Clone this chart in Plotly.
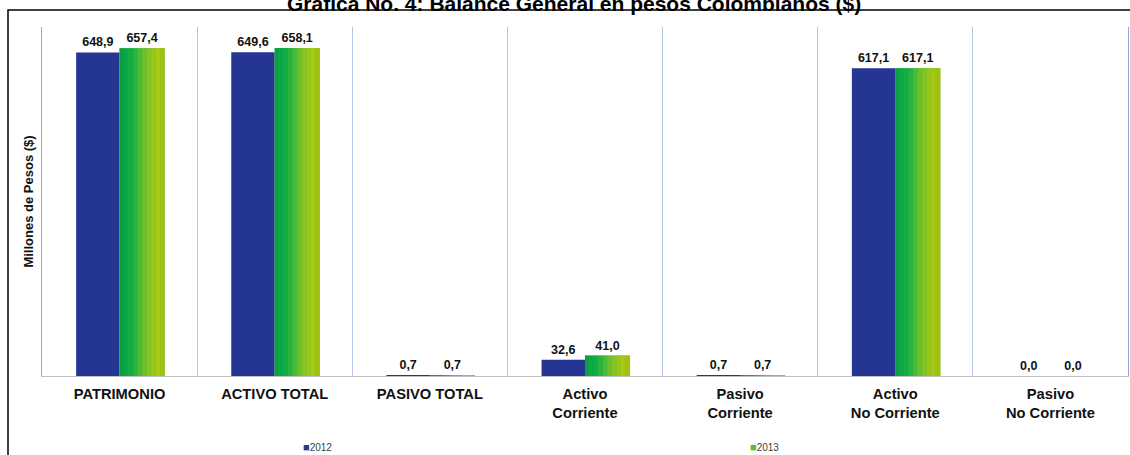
import plotly.graph_objects as go

# ---- data ----
categories = ["PATRIMONIO", "ACTIVO TOTAL", "PASIVO TOTAL", "Activo<br>Corriente",
              "Pasivo<br>Corriente", "Activo<br>No Corriente", "Pasivo<br>No Corriente"]
series_names = ["2012", "2013"]
values_2012 = [648.9, 649.6, 0.7, 32.6, 0.7, 617.1, 0.0]
values_2013 = [657.4, 658.1, 0.7, 41.0, 0.7, 617.1, 0.0]

title_text = "Gráfica No. 4: Balance General en pesos Colombianos ($)"
y_title = "Millones de Pesos ($)"

# ---- styles ----
FONT = "Liberation Sans, Arial, sans-serif"
BLUE = "#243592"
GREEN_STRIPS = ["#0c9e42", "#0aa848", "#12ae45", "#2ab43f", "#4bba36",
                "#6cc02c", "#86c424", "#98c71c", "#a5c915", "#9fc212"]
GRID = "#b4c6e7"

fig = go.Figure()

# 2012 bars
fig.add_trace(go.Bar(
    x=categories, y=values_2012, name=series_names[0],
    marker=dict(color=BLUE, line=dict(width=0)),
    offset=-0.28, width=0.28,
    texttemplate="<b>%{y:.1f}</b>", textposition="outside",
    textfont=dict(family=FONT, size=12.5, color="#111111"),
    cliponaxis=False, showlegend=False,
))

# 2013 bars (full width, carries label)
fig.add_trace(go.Bar(
    x=categories, y=values_2013, name=series_names[1],
    marker=dict(color=GREEN_STRIPS[4], line=dict(width=0)),
    offset=0.0, width=0.29,
    texttemplate="<b>%{y:.1f}</b>", textposition="outside",
    textfont=dict(family=FONT, size=12.5, color="#111111"),
    cliponaxis=False, showlegend=False,
))

# gradient strips over the 2013 bars
n = len(GREEN_STRIPS)
sw = 0.29 / n
for i, c in enumerate(GREEN_STRIPS):
    fig.add_trace(go.Bar(
        x=categories, y=values_2013, name=series_names[1],
        marker=dict(color=c, line=dict(width=0)),
        offset=i * sw, width=sw * 1.02,
        showlegend=False, hoverinfo="skip",
    ))

# legend annotations (manual, placed like reference)
legend_colors = [BLUE, "#5cbb2e"]
legend_x = [0.2535, 0.6657]
for name, col, lx in zip(series_names, legend_colors, legend_x):
    fig.add_annotation(
        x=lx, y=-0.2034, xref="paper", yref="paper", showarrow=False,
        text=f'<span style="color:{col};font-size:11px">■</span>{name}',
        font=dict(family=FONT, size=10, color="#404040"),
        xanchor="center", yanchor="middle",
    )

# title (partly cut at top as in reference)
fig.add_annotation(
    x=0.4899, y=1.0273, xref="paper", yref="paper", showarrow=False,
    text=f"<b>{title_text}</b>",
    font=dict(family=FONT, size=21, color="#000000"),
    xanchor="center", yanchor="bottom",
)

# outer border box
fig.add_shape(type="rect", xref="paper", yref="paper",
              x0=-0.0313, x1=1.05, y0=-0.4, y1=1.0487,
              line=dict(color="#000000", width=1.5), layer="below")

fig.update_layout(
    width=1130, height=455,
    margin=dict(l=42, r=2, t=27, b=79),
    plot_bgcolor="white", paper_bgcolor="white",
    barmode="overlay",
    separators=",.",
    showlegend=False,
    font=dict(family=FONT),
    xaxis=dict(
        type="category", tickson="boundaries", showgrid=True,
        gridcolor=GRID, gridwidth=1,
        showline=True, linecolor="#c0c0c0", linewidth=1,
        ticks="", ticklen=0, ticklabelstandoff=4,
        tickmode="array", tickvals=categories,
        ticktext=[f"<b>{c}</b>" for c in categories],
        tickfont=dict(family=FONT, size=14.7, color="#111111"),
        range=[-0.5, len(categories) - 0.5],
    ),
    yaxis=dict(
        range=[0, 700], showticklabels=False, showgrid=False, zeroline=False,
        showline=True, linecolor="#8eaadc", linewidth=1, mirror=True,
        title=dict(text=f"<b>{y_title}</b>", standoff=4,
                   font=dict(family=FONT, size=13, color="#111111")),
    ),
)

fig.write_html("out.html", config={"displayModeBar": False},
               post_script="document.body.style.margin='0';")
